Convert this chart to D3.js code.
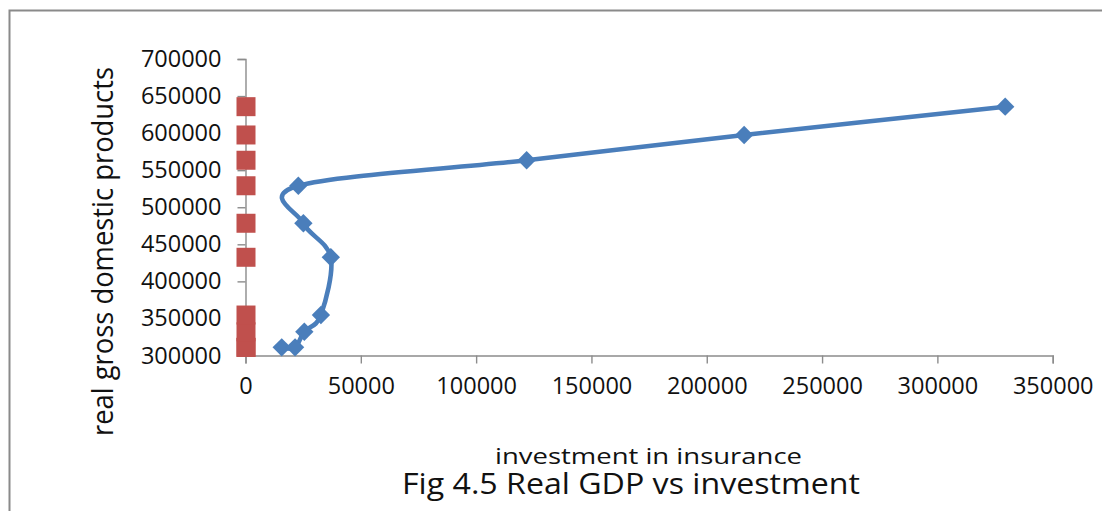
<!DOCTYPE html>
<html>
<head>
<meta charset="utf-8">
<script src="https://cdn.jsdelivr.net/npm/d3@7"></script>
<style>
  html, body { margin: 0; padding: 0; background: #fff; }
  svg { display: block; }
  text { font-family: "Open Sans", sans-serif; fill: #111; }
</style>
</head>
<body>
<svg id="chart" width="1102" height="511"></svg>
<script>
// Investment in insurance (x) against real GDP (y), in series order
const investment = [15700, 21500, 25500, 32700, 37000, 25100, 22900, 121900, 216200, 329400];
const realGdp    = [311000, 311000, 332000, 354600, 432500, 478400, 529000, 563400, 597500, 635700];
// Second series plotted on the same GDP values at (near) zero on the x axis
const secondX    = [0, 0, 0, 0, 0, 0, 0, 0, 0, 0];

const xTicks = [0, 50000, 100000, 150000, 200000, 250000, 300000, 350000];
const yTicks = [300000, 350000, 400000, 450000, 500000, 550000, 600000, 650000, 700000];

const titleText  = "Fig 4.5 Real GDP vs investment";
const xTitleText = "investment in insurance";
const yTitleText = "real gross domestic products";

const svg = d3.select("#chart");
const W = 1102, H = 511;

// Outer chart frame (runs off the right and bottom edges)
svg.append("rect")
  .attr("x", 9.5).attr("y", 10.5)
  .attr("width", W + 20).attr("height", H + 20)
  .attr("fill", "#fff")
  .attr("stroke", "#8a8a8a").attr("stroke-width", 2);

const x = d3.scaleLinear().domain([0, 350000]).range([245.5, 1052.7]);
const y = d3.scaleLinear().domain([300000, 700000]).range([355.5, 59]);

const axisColor = "#8c8c8c";

// Y axis
const yAxis = svg.append("g")
  .attr("transform", `translate(${x(0)},0)`)
  .call(d3.axisLeft(y).tickValues(yTicks).tickFormat(d3.format("d")).tickSize(8).tickPadding(16));
// X axis
const xAxis = svg.append("g")
  .attr("transform", `translate(0,${y(300000)})`)
  .call(d3.axisBottom(x).tickValues(xTicks).tickFormat(d3.format("d")).tickSize(8).tickPadding(14));

[yAxis, xAxis].forEach(g => {
  g.select(".domain").attr("stroke", axisColor).attr("stroke-width", 1.4);
  g.selectAll(".tick line").attr("stroke", axisColor).attr("stroke-width", 1.4);
  g.selectAll(".tick text")
    .attr("font-family", "'Open Sans', sans-serif")
    .attr("font-size", 23.5)
    .attr("fill", "#111");
});
xAxis.selectAll(".tick text").attr("dy", "0.71em").attr("y", 22);

const pts = investment.map((v, i) => [v, realGdp[i]]);

// Smoothed line through the investment series
const line = d3.line()
  .x(d => x(d[0]))
  .y(d => y(d[1]))
  .curve(d3.curveCatmullRom.alpha(0));

svg.append("path")
  .datum(pts)
  .attr("d", line)
  .attr("fill", "none")
  .attr("stroke", "#4a7ebb")
  .attr("stroke-width", 4.6)
  .attr("stroke-linejoin", "round")
  .attr("stroke-linecap", "round");

// Diamond markers
const diamond = d3.symbol().type(d3.symbolDiamond2).size(215);
svg.append("g").selectAll("path")
  .data(pts)
  .join("path")
  .attr("d", diamond)
  .attr("transform", d => `translate(${x(d[0])},${y(d[1])})`)
  .attr("fill", "#4a7ebb");

// Square markers of the second series
const sq = 19;
svg.append("g").selectAll("rect")
  .data(secondX.map((v, i) => [v, realGdp[i]]))
  .join("rect")
  .attr("x", d => x(d[0]) - sq / 2 + 0.5)
  .attr("y", d => y(d[1]) - sq / 2)
  .attr("width", sq).attr("height", sq)
  .attr("fill", "#c0504d");

// Axis titles and chart title
svg.append("text")
  .attr("x", 648.5).attr("y", 464)
  .attr("text-anchor", "middle")
  .attr("font-size", 21)
  .attr("textLength", 307).attr("lengthAdjust", "spacingAndGlyphs")
  .text(xTitleText);

svg.append("text")
  .attr("transform", "translate(113,251.5) rotate(-90)")
  .attr("text-anchor", "middle")
  .attr("font-size", 29)
  .attr("textLength", 369).attr("lengthAdjust", "spacingAndGlyphs")
  .text(yTitleText);

svg.append("text")
  .attr("x", 631).attr("y", 494)
  .attr("text-anchor", "middle")
  .attr("font-size", 30)
  .attr("textLength", 458).attr("lengthAdjust", "spacingAndGlyphs")
  .text(titleText);
</script>
</body>
</html>
